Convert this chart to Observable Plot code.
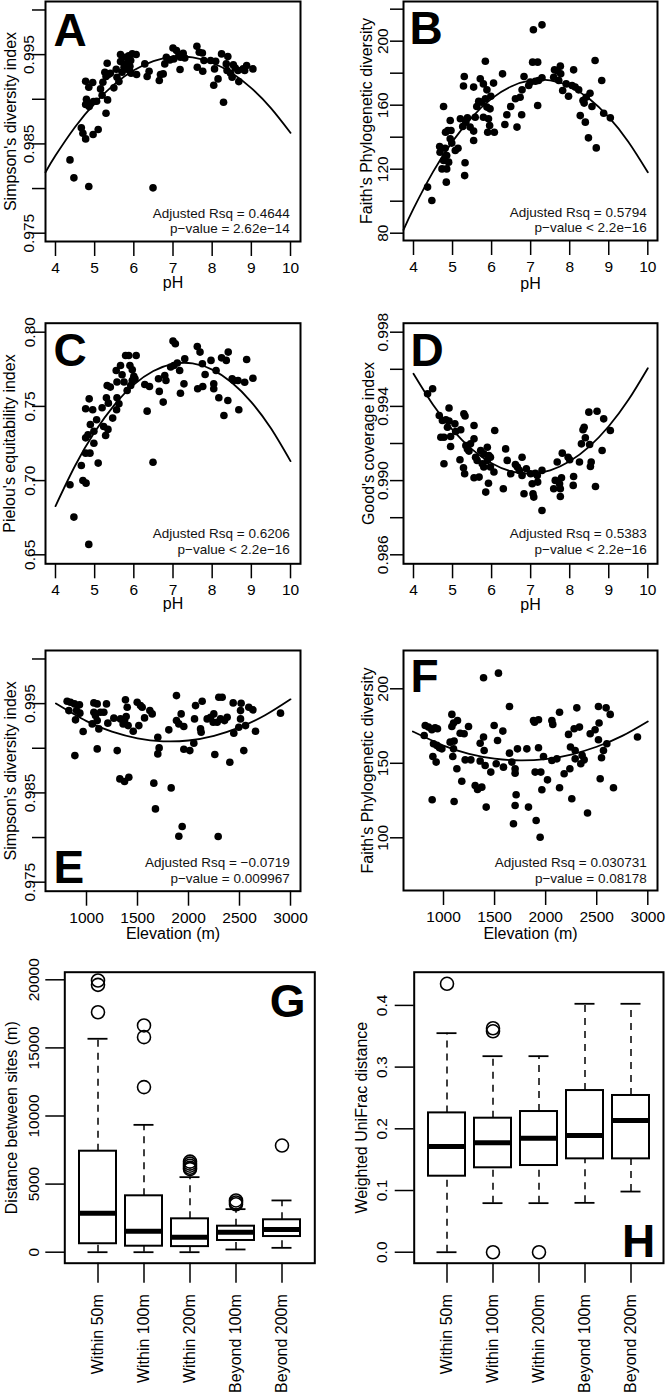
<!DOCTYPE html>
<html><head><meta charset="utf-8">
<script src="https://cdn.jsdelivr.net/npm/d3@7"></script>
<script src="https://cdn.jsdelivr.net/npm/@observablehq/plot@0.6"></script>
<style>
body{margin:0;background:#fff;}
#fig{position:relative;width:666px;height:1394px;background:#fff;overflow:hidden;}
#fig svg{position:absolute;overflow:visible;max-width:none;}
</style></head><body><div id="fig"></div>
<script>
// ---------- Panel A: Simpson vs pH ----------
const phA = [4.37,4.47,4.85,6.49,4.66,4.70,4.77,4.96,5.09,5.29,5.33,5.19,5.05,4.97,4.79,4.77,4.86,4.89,4.77,4.85,4.95,5.21,5.26,5.32,5.29,5.35,5.40,5.49,5.57,5.55,5.62,5.66,5.70,5.75,5.81,5.89,5.87,5.96,6.06,5.79,5.66,5.92,5.90,6.07,5.93,5.83,6.28,6.34,6.39,6.65,6.68,6.75,6.79,6.83,6.92,7.00,7.02,7.09,7.15,7.19,7.26,7.30,7.18,7.61,7.67,7.75,7.62,7.76,7.79,7.96,8.09,8.06,8.04,8.15,8.24,8.29,8.36,8.40,8.38,8.47,8.51,8.54,8.59,8.66,8.68,8.79,8.88,9.04,8.83,5.15];
const simpsonA = [0.98321,0.98120,0.98023,0.98008,0.98680,0.98620,0.98556,0.98605,0.98661,0.98844,0.98993,0.99045,0.98978,0.98974,0.99001,0.98941,0.98918,0.98948,0.99202,0.99135,0.99187,0.99191,0.99303,0.99404,0.99255,0.99277,0.99292,0.99128,0.99247,0.99336,0.99198,0.99422,0.99303,0.99359,0.99396,0.99322,0.99486,0.99508,0.99501,0.99471,0.99501,0.99434,0.99370,0.99277,0.99292,0.99340,0.99396,0.99255,0.99314,0.99210,0.99277,0.99284,0.99396,0.99471,0.99441,0.99575,0.99452,0.99546,0.99490,0.99471,0.99516,0.99463,0.99333,0.99594,0.99527,0.99519,0.99359,0.99314,0.99434,0.99434,0.99426,0.99340,0.99157,0.99228,0.99508,0.98967,0.99396,0.99478,0.99322,0.99292,0.99247,0.99385,0.99351,0.99322,0.99198,0.99340,0.99377,0.99340,0.99322,0.99116];
const fitPhA = [3.745,4,4.5,5,5.5,6,6.5,7,7.5,8,8.5,9,9.5,10];
const fitA = [0.98183,0.98369,0.98690,0.98955,0.99167,0.99324,0.99427,0.99475,0.99469,0.99409,0.99294,0.99125,0.98901,0.98624];
const statsA = ["Adjusted Rsq = 0.4644","p\u2212value = 2.62e\u221214"];

// ---------- Panel B: Faith PD vs pH ----------
const phB = [4.36,4.47,4.67,4.68,4.73,4.77,4.81,4.77,4.84,4.85,4.90,4.85,4.82,4.88,4.94,4.96,4.94,4.98,5.07,5.14,5.20,5.28,5.30,5.31,5.32,5.26,5.34,5.38,5.45,5.54,5.54,5.58,5.54,5.62,5.67,5.71,5.75,5.79,5.84,5.84,5.79,5.88,5.88,5.90,5.92,5.95,5.96,5.98,6.05,6.07,6.28,6.34,6.39,6.49,6.65,6.61,6.73,6.77,6.78,6.83,6.95,6.99,7.05,7.07,7.18,7.18,7.29,7.12,7.20,7.29,7.59,7.61,7.69,7.76,7.72,7.77,7.82,7.91,7.97,8.06,8.10,8.14,8.23,8.27,8.34,8.37,8.40,8.42,8.48,8.52,8.57,8.65,8.68,8.82,8.87,9.04];
const faithB = [108.8,100.4,134.2,130.6,120.2,125.4,133.1,159.2,111.9,120.2,124.4,128.5,143.1,144.2,150.4,144.2,139.0,136.3,131.7,133.1,151.5,172.0,177.9,116.0,124.0,146.7,149.4,152.1,146.3,143.8,137.9,152.5,171.3,159.2,162.5,176.5,161.9,173.3,164.0,187.5,152.5,158.8,169.6,143.1,151.5,147.3,157.7,165.6,173.8,143.1,179.6,147.9,154.0,159.2,146.3,164.0,165.0,154.0,169.6,177.9,172.3,174.4,186.9,207.1,186.9,159.8,210.2,175.0,175.4,177.1,177.5,182.1,181.3,184.4,175.4,179.6,169.2,173.3,165.6,172.3,182.1,171.3,169.6,153.5,162.9,161.3,149.4,165.0,139.6,167.5,159.2,187.9,133.3,175.4,155.0,152.1];
const fitPhB = [3.744,4,4.5,5,5.5,6,6.5,7,7.5,8,8.5,9,9.5,10];
const fitB = [82.1,95.3,118.3,137.4,152.6,164.1,171.7,175.5,175.5,171.7,164.0,152.5,137.2,118.1];
const statsB = ["Adjusted Rsq = 0.5794","p\u2212value < 2.2e\u221216"];

// ---------- Panel C: Pielou vs pH ----------
const phC = [4.37,4.47,4.85,6.49,4.66,4.70,4.78,4.77,4.88,4.98,5.09,4.77,4.83,4.89,4.77,4.86,4.95,5.05,4.98,5.19,5.23,5.28,5.30,5.32,5.35,5.40,5.34,5.46,5.56,5.57,5.62,5.55,5.57,5.66,5.70,5.75,5.79,5.87,5.90,5.96,5.83,5.92,5.96,6.03,6.06,6.00,6.28,6.34,6.40,6.65,6.63,6.75,6.79,6.82,7.00,7.06,6.94,7.02,7.11,7.17,7.19,7.28,7.30,7.62,7.69,7.63,7.76,7.75,7.82,7.97,8.04,8.04,8.10,8.17,8.24,8.30,8.36,8.41,8.40,8.51,8.55,8.66,8.68,8.83,8.88,9.04];
const pielouC = [0.6972,0.6754,0.6570,0.7124,0.7102,0.7001,0.6983,0.7185,0.7185,0.7252,0.7118,0.7288,0.7309,0.7378,0.7484,0.7551,0.7477,0.7410,0.7333,0.7491,0.7365,0.7304,0.7558,0.7641,0.7522,0.7630,0.7345,0.7421,0.7477,0.7558,0.7518,0.7742,0.7664,0.7776,0.7713,0.7664,0.7843,0.7843,0.7776,0.7747,0.7607,0.7641,0.7675,0.7686,0.7843,0.7702,0.7648,0.7468,0.7634,0.7601,0.7686,0.7529,0.7708,0.7675,0.7940,0.7922,0.7765,0.7776,0.7792,0.7742,0.7589,0.7652,0.7821,0.7904,0.7866,0.7619,0.7634,0.7787,0.7715,0.7810,0.7652,0.7619,0.7742,0.7558,0.7827,0.7439,0.7810,0.7866,0.7540,0.7686,0.7675,0.7675,0.7477,0.7663,0.7816,0.7690];
const fitPhC = [4,4.5,5,5.5,6,6.5,7,7.5,8,8.5,9,9.5,10];
const fitC = [0.6828,0.7100,0.7327,0.7509,0.7647,0.7739,0.7787,0.7790,0.7748,0.7661,0.7529,0.7352,0.7131];
const statsC = ["Adjusted Rsq = 0.6206","p\u2212value < 2.2e\u221216"];

// ---------- Panel D: Good's coverage vs pH ----------
const phD = [4.36,4.49,4.66,4.70,4.74,4.78,4.83,4.78,4.87,4.91,4.95,4.95,4.91,5.08,5.06,5.21,5.29,5.32,5.34,5.19,5.28,5.31,5.38,5.42,5.46,5.55,5.55,5.55,5.59,5.63,5.68,5.72,5.76,5.80,5.80,5.85,5.89,5.89,5.92,5.93,5.97,5.97,6.06,6.08,6.30,6.36,6.40,6.49,6.61,6.66,6.71,6.78,6.78,6.83,6.89,7.00,7.04,7.06,7.08,7.12,7.17,7.18,7.29,7.29,7.59,7.63,7.68,7.74,7.76,7.76,7.79,7.81,7.96,8.00,8.09,8.10,8.25,8.30,8.34,8.37,8.40,8.49,8.51,8.53,8.55,8.66,8.70,8.83,8.87,9.04];
const goodD = [0.99468,0.99495,0.99351,0.99234,0.99324,0.99234,0.99328,0.99091,0.99288,0.99391,0.99184,0.99238,0.99321,0.99265,0.99306,0.99274,0.99360,0.99348,0.99189,0.99112,0.99069,0.99037,0.99171,0.99159,0.99198,0.99297,0.99225,0.99015,0.99126,0.99109,0.99019,0.99162,0.99091,0.99144,0.99073,0.98938,0.99180,0.99109,0.98986,0.99135,0.99126,0.99073,0.99046,0.99270,0.98956,0.99171,0.99109,0.99037,0.99087,0.99073,0.99055,0.99126,0.99028,0.98929,0.99064,0.99037,0.98983,0.98929,0.98911,0.99040,0.99028,0.98992,0.99055,0.98839,0.98956,0.99001,0.99100,0.98983,0.98956,0.98914,0.99015,0.99148,0.99126,0.99112,0.98974,0.99022,0.99100,0.99198,0.99274,0.99288,0.99231,0.99369,0.99195,0.99076,0.99100,0.98968,0.99374,0.99162,0.99333,0.99270];
const fitPhD = [4,4.5,5,5.5,6,6.5,7,7.5,8,8.5,9,9.5,10];
const fitD = [0.99576,0.99409,0.99273,0.99168,0.99094,0.99050,0.99037,0.99055,0.99104,0.99183,0.99293,0.99434,0.99606];
const statsD = ["Adjusted Rsq = 0.5383","p\u2212value < 2.2e\u221216"];

// ---------- Panel E: Simpson vs elevation ----------
const elevE = [810,843,827,882,902,892,931,935,886,967,1072,1105,1072,1088,1056,1105,1137,1121,1170,1196,1209,1105,1268,1301,1327,1373,1415,1333,1359,1382,1389,1399,1373,1408,1458,1497,1513,1529,1546,1569,1621,1644,1660,1676,1699,1712,1699,1807,1830,1882,1882,1905,1905,1938,1928,1954,1954,2013,2052,2059,2069,2118,2124,2134,2183,2216,2242,2248,2258,2281,2291,2297,2330,2314,2353,2379,2405,2438,2444,2493,2510,2510,2516,2542,2559,2591,2631,2657,2902];
const simpsonE = [0.99527,0.99516,0.99422,0.99497,0.99422,0.99318,0.99486,0.99393,0.98918,0.99187,0.99508,0.99497,0.99404,0.99366,0.99273,0.99310,0.99404,0.99217,0.99404,0.99497,0.99281,0.98993,0.99337,0.98974,0.98657,0.98627,0.98676,0.99329,0.99273,0.99542,0.99355,0.99460,0.99310,0.99254,0.99191,0.99516,0.99254,0.99478,0.99460,0.99340,0.99422,0.99385,0.98609,0.98321,0.99124,0.99004,0.98937,0.99206,0.98556,0.99590,0.99310,0.99273,0.98015,0.98123,0.99385,0.99243,0.98989,0.98974,0.99057,0.99329,0.99478,0.99217,0.99180,0.99527,0.99329,0.99348,0.99292,0.99385,0.98930,0.99292,0.98011,0.99572,0.99572,0.99329,0.99310,0.99348,0.98844,0.99508,0.99169,0.99236,0.99422,0.99329,0.99504,0.98974,0.99254,0.99460,0.99430,0.99191,0.99393];
const fitElevE = [700,1000,1250,1500,1750,2000,2250,2500,2750,3000];
const fitE = [0.99501,0.99304,0.99186,0.99111,0.99078,0.99087,0.99139,0.99233,0.99369,0.99548];
const statsE = ["Adjusted Rsq = \u22120.0719","p\u2212value = 0.009967"];

// ---------- Panel F: Faith PD vs elevation ----------
const elevF = [821,811,853,886,918,941,902,935,961,984,896,928,889,1082,1082,1098,1137,1065,1104,1098,1091,1131,1179,1104,1163,1202,1245,1212,1268,1310,1333,1375,1359,1392,1398,1359,1408,1392,1418,1463,1496,1529,1516,1538,1581,1587,1646,1646,1669,1701,1701,1711,1685,1701,1724,1832,1816,1881,1891,1897,1930,1907,1930,1946,1953,1963,1979,2018,2061,2070,2061,2110,2136,2136,2181,2224,2237,2243,2256,2279,2289,2305,2331,2289,2344,2357,2377,2410,2436,2484,2517,2523,2517,2534,2547,2566,2592,2599,2632,2664,2899];
const faithF = [175.4,168.7,174.3,172.5,173.8,173.2,163.1,162.0,160.4,159.7,154.6,150.8,125.5,182.8,174.7,177.0,178.7,164.2,164.9,159.7,154.6,146.3,138.0,124.4,170.2,169.8,174.7,152.3,152.3,135.1,132.4,134.0,163.5,167.6,158.6,151.5,148.5,207.4,120.6,144.1,175.4,165.3,149.7,210.5,171.6,147.4,188.1,156.8,150.8,146.3,143.4,128.9,109.4,121.7,159.7,120.6,159.7,178.7,177.6,144.1,179.2,111.6,160.4,100.4,144.1,132.2,154.6,138.9,178.7,176.1,151.9,153.0,184.3,133.6,143.0,169.4,146.3,160.9,126.2,173.2,158.6,187.2,174.3,153.0,149.7,155.3,152.3,116.6,169.8,172.5,188.1,177.0,165.8,139.6,153.7,158.6,187.2,163.1,182.8,133.6,167.6];
const fitElevF = [700,1000,1250,1500,1750,2000,2250,2500,2750,3000];
const fitF = [171.3,161.9,156.4,153.1,151.9,152.8,155.9,161.1,168.4,178.1];
const statsF = ["Adjusted Rsq = 0.030731","p\u2212value = 0.08178"];

// ---------- Panels G and H: box plots ----------
const groups = ["Within 50m","Within 100m","Within 200m","Beyond 100m","Beyond 200m"];
const distLow = [0, 0, 0, 200, 320];
const distQ1 = [620, 440, 410, 860, 1150];
const distMed = [2860, 1540, 1100, 1470, 1670];
const distQ3 = [7415, 4140, 2450, 1910, 2380];
const distHigh = [15670, 9350, 5510, 3160, 3800];
const distOutGroup = ["Within 50m","Within 50m","Within 50m","Within 100m","Within 100m","Within 100m","Within 200m","Within 200m","Within 200m","Within 200m","Within 200m","Beyond 100m","Beyond 100m","Beyond 100m","Beyond 200m"];
const distOut = [19950, 19630, 17620, 16650, 15790, 12120, 6650, 6500, 6350, 6200, 6100, 3800, 3650, 3520, 7830];

const unifracLow = [0, 0.0795, 0.0795, 0.080, 0.0983];
const unifracQ1 = [0.1232, 0.1368, 0.1405, 0.1513, 0.1513];
const unifracMed = [0.1713, 0.1773, 0.1848, 0.189, 0.2134];
const unifracQ3 = [0.2258, 0.2172, 0.228, 0.262, 0.254];
const unifracHigh = [0.355, 0.3177, 0.3177, 0.4026, 0.4026];
const unifracOutGroup = ["Within 50m","Within 100m","Within 100m","Within 100m","Within 200m"];
const unifracOut = [0.435, 0.358, 0.363, 0, 0];

// ---------- tick values ----------
const phTicks = [4,5,6,7,8,9,10];
const elevTicks = [1000,1500,2000,2500,3000];
const simpsonTicks = [0.975,0.98,0.985,0.99,0.995,1.0];
const simpsonLabels = [0.975,0.985,0.995];
const faithTicksB = [80,100,120,140,160,180,200,220];
const faithLabelsB = [80,120,160,200];
const pielouTicks = [0.65,0.70,0.75,0.80];
const goodTicks = [0.986,0.988,0.990,0.992,0.994,0.996,0.998];
const goodLabels = [0.986,0.990,0.994,0.998];
const faithTicksF = [100,150,200];
const distTicks = [0,5000,10000,15000,20000];
const unifracTicks = [0,0.1,0.2,0.3,0.4];

// ---------- rendering ----------
const FONT = '"Liberation Sans", Arial, Helvetica, sans-serif';
const fig = document.getElementById("fig");
function place(svg, left, top) {
  svg.style.left = left + "px";
  svg.style.top = top + "px";
  fig.appendChild(svg);
}
const baseStyle = {fontFamily: FONT, fontSize: "15.5px", color: "black", background: "transparent", overflow: "visible"};

function scatter(p) {
  const n = Math.min(p.xs.length, p.ys.length);
  const pts = d3.range(n).map(i => ({x: p.xs[i], y: p.ys[i]}));
  const fit = p.cx.map((x, i) => ({x, y: p.cy[i]}));
  const chart = Plot.plot({
    width: p.w, height: p.h,
    marginLeft: p.m[0], marginTop: p.m[1], marginRight: p.m[2], marginBottom: p.m[3],
    style: baseStyle,
    x: {domain: p.xd},
    y: {domain: p.yd},
    marks: [
      Plot.line(fit, {x: "x", y: "y", curve: "natural", stroke: "black", strokeWidth: 1.8}),
      Plot.dot(pts, {x: "x", y: "y", r: 3.8, fill: "black", stroke: "none"}),
      Plot.frame({stroke: "black", strokeWidth: 2}),
      Plot.axisX({ticks: p.xt, tickSize: 15, tickPadding: 5.5, tickFormat: d => String(d), fontSize: 15.5, stroke: "black", strokeWidth: 1.5, label: null}),
      Plot.axisY({ticks: p.yt, tickSize: 13, tickFormat: () => "", stroke: "black", strokeWidth: 1.5, label: null}),
      Plot.text(p.yl, {y: d => d, frameAnchor: "left", dx: p.yld, rotate: -90, text: p.yf, fontSize: 15.5, fill: "black", textAnchor: "middle", lineAnchor: "middle"}),
      Plot.text([p.xTitle], {frameAnchor: "bottom", dy: p.xtd, text: d => d, fontSize: 16, fill: "black", textAnchor: "middle", lineAnchor: "middle"}),
      Plot.text([p.yTitle], {frameAnchor: "left", dx: p.ytd, rotate: -90, text: d => d, fontSize: 16, fill: "black", textAnchor: "middle", lineAnchor: "middle"}),
      Plot.text([p.letter], {frameAnchor: p.la, dx: p.ldx, dy: p.ldy, text: d => d, fontSize: 46, fontWeight: "bold", lineAnchor: "bottom", textAnchor: "start", fill: "black"}),
      Plot.text([p.stats.join("\n")], {frameAnchor: "bottom-right", dx: p.sdx, dy: p.sdy, textAnchor: "end", lineAnchor: "bottom", lineHeight: 1.14, fontSize: 13.5, text: d => d, fill: "#111"})
    ]
  });
  place(chart, p.left, p.top);
}

function boxes(p) {
  const st = p.cats.map((c, i) => ({c, lo: p.lo[i], q1: p.q1[i], med: p.med[i], q3: p.q3[i], hi: p.hi[i]}));
  const out = p.oc.map((c, i) => ({c, v: p.ov[i]}));
  const chart = Plot.plot({
    width: p.w, height: p.h,
    marginLeft: p.m[0], marginTop: p.m[1], marginRight: p.m[2], marginBottom: p.m[3],
    style: baseStyle,
    x: {type: "band", domain: p.cats, paddingInner: 0.2, paddingOuter: 0.3, align: 0.5},
    y: {domain: p.yd},
    marks: [
      Plot.ruleX(st, {x: "c", y1: "q3", y2: "hi", stroke: "black", strokeWidth: 1.5, strokeDasharray: "7,6"}),
      Plot.ruleX(st, {x: "c", y1: "lo", y2: "q1", stroke: "black", strokeWidth: 1.5, strokeDasharray: "7,6"}),
      Plot.tickY(st, {x: "c", y: "hi", stroke: "black", strokeWidth: 1.8, insetLeft: 8.5, insetRight: 8.5}),
      Plot.tickY(st, {x: "c", y: "lo", stroke: "black", strokeWidth: 1.8, insetLeft: 8.5, insetRight: 8.5}),
      Plot.barY(st, {x: "c", y1: "q1", y2: "q3", fill: "white", stroke: "black", strokeWidth: 2}),
      Plot.tickY(st, {x: "c", y: "med", stroke: "black", strokeWidth: 5}),
      Plot.dot(out, {x: "c", y: "v", r: 6.5, stroke: "black", strokeWidth: 1.6, fill: "none"}),
      Plot.frame({stroke: "black", strokeWidth: 2}),
      Plot.axisX({tickSize: 20, tickFormat: () => "", stroke: "black", strokeWidth: 1.5, label: null}),
      Plot.axisY({ticks: p.yt, tickSize: 19, tickFormat: () => "", stroke: "black", strokeWidth: 1.5, label: null}),
      Plot.text(p.yt, {y: d => d, frameAnchor: "left", dx: p.yld, rotate: -90, text: p.yf, fontSize: 15.5, fill: "black", textAnchor: "middle", lineAnchor: "middle"}),
      Plot.text(p.cats, {x: d => d, frameAnchor: "bottom", dy: 31, rotate: -90, textAnchor: "end", lineAnchor: "middle", text: d => d, fontSize: 16, fill: "black"}),
      Plot.text([p.yTitle], {frameAnchor: "left", dx: p.ytd, rotate: -90, text: d => d, fontSize: 16, fill: "black", textAnchor: "middle", lineAnchor: "middle"}),
      Plot.text([p.letter], {frameAnchor: p.la, dx: p.ldx, dy: p.ldy, text: d => d, fontSize: 46, fontWeight: "bold", lineAnchor: "bottom", textAnchor: "end", fill: "black"})
    ]
  });
  place(chart, p.left, p.top);
}

const f3 = d => d.toFixed(3), f2 = d => d.toFixed(2), f1 = d => d.toFixed(1), f0 = d => String(d);

scatter({left: 0, top: 0, w: 333, h: 320, m: [45, 1, 33, 79],
  xs: phA, ys: simpsonA, cx: fitPhA, cy: fitA, xd: [3.745, 10.255], yd: [0.97407, 1.00095],
  xt: phTicks, yt: simpsonTicks, yl: simpsonLabels, yf: f3, yld: -16,
  xTitle: "pH", xtd: 41, yTitle: "Simpson's diversity index", ytd: -35,
  letter: "A", la: "top-left", ldx: 8, ldy: 44, stats: statsA, sdx: -10.7, sdy: -8.3});

scatter({left: 333, top: 0, w: 333, h: 320, m: [70, 1, 9, 80],
  xs: phB, ys: faithB, cx: fitPhB, cy: fitB, xd: [3.744, 10.248], yd: [75.44, 224.8],
  xt: phTicks, yt: faithTicksB, yl: faithLabelsB, yf: f0, yld: -20,
  xTitle: "pH", xtd: 43, yTitle: "Faith's Phylogenetic diversity", ytd: -36.8,
  letter: "B", la: "top-left", ldx: 6, ldy: 42, stats: statsB, sdx: -10.7, sdy: -8.3});

scatter({left: 0, top: 320, w: 333, h: 325, m: [45, 2.7, 33, 81.7],
  xs: phC, ys: pielouC, cx: fitPhC, cy: fitC, xd: [3.745, 10.255], yd: [0.64394, 0.80606],
  xt: phTicks, yt: pielouTicks, yl: pielouTicks, yf: f2, yld: -15,
  xTitle: "pH", xtd: 40, yTitle: "Pielou's equitability index", ytd: -36,
  letter: "C", la: "top-left", ldx: 8, ldy: 42.3, stats: statsC, sdx: -10.7, sdy: -10});

scatter({left: 333, top: 320, w: 333, h: 325, m: [70, 2.7, 9, 81.7],
  xs: phD, ys: goodD, cx: fitPhD, cy: fitD, xd: [3.744, 10.248], yd: [0.985515, 0.998485],
  xt: phTicks, yt: goodTicks, yl: goodLabels, yf: f3, yld: -20,
  xTitle: "pH", xtd: 41, yTitle: "Good's coverage index", ytd: -35,
  letter: "D", la: "top-left", ldx: 7, ldy: 42.3, stats: statsD, sdx: -10.7, sdy: -10});

scatter({left: 0, top: 645, w: 333, h: 315, m: [45, 5, 33, 69.3],
  xs: elevE, ys: simpsonE, cx: fitElevE, cy: fitE, xd: [598, 3098], yd: [0.97399, 1.00095],
  xt: elevTicks, yt: simpsonTicks, yl: simpsonLabels, yf: f3, yld: -15,
  xTitle: "Elevation (m)", xtd: 42.5, yTitle: "Simpson's diversity index", ytd: -35,
  letter: "E", la: "bottom-left", ldx: 8, ldy: -8, stats: statsE, sdx: -10.7, sdy: -8.4});

scatter({left: 333, top: 645, w: 333, h: 315, m: [70, 5, 9, 70],
  xs: elevF, ys: faithF, cx: fitElevF, cy: fitF, xd: [608.4, 3095], yd: [64.63, 225.7],
  xt: elevTicks, yt: faithTicksF, yl: faithTicksF, yf: f0, yld: -20,
  xTitle: "Elevation (m)", xtd: 43, yTitle: "Faith's Phylogenetic diversity", ytd: -36,
  letter: "F", la: "top-left", ldx: 7, ldy: 41.5, stats: statsF, sdx: -10.7, sdy: -7.7});

boxes({left: 0, top: 960, w: 333, h: 434, m: [64.3, 11.7, 18.7, 131.3],
  cats: groups, lo: distLow, q1: distQ1, med: distMed, q3: distQ3, hi: distHigh,
  oc: distOutGroup, ov: distOut, yd: [-808, 20558], yt: distTicks, yf: f0, yld: -31,
  yTitle: "Distance between sites (m)", ytd: -53,
  letter: "G", la: "top-right", ldx: -9.3, ldy: 45});

boxes({left: 333, top: 960, w: 333, h: 434, m: [80.7, 11.7, 3, 131.3],
  cats: groups, lo: unifracLow, q1: unifracQ1, med: unifracMed, q3: unifracQ3, hi: unifracHigh,
  oc: unifracOutGroup, ov: unifracOut, yd: [-0.0178, 0.4538], yt: unifracTicks, yf: f1, yld: -32.5,
  yTitle: "Weighted UniFrac distance", ytd: -52.5,
  letter: "H", la: "bottom-right", ldx: -8.3, ldy: -6});
</script></body></html>
